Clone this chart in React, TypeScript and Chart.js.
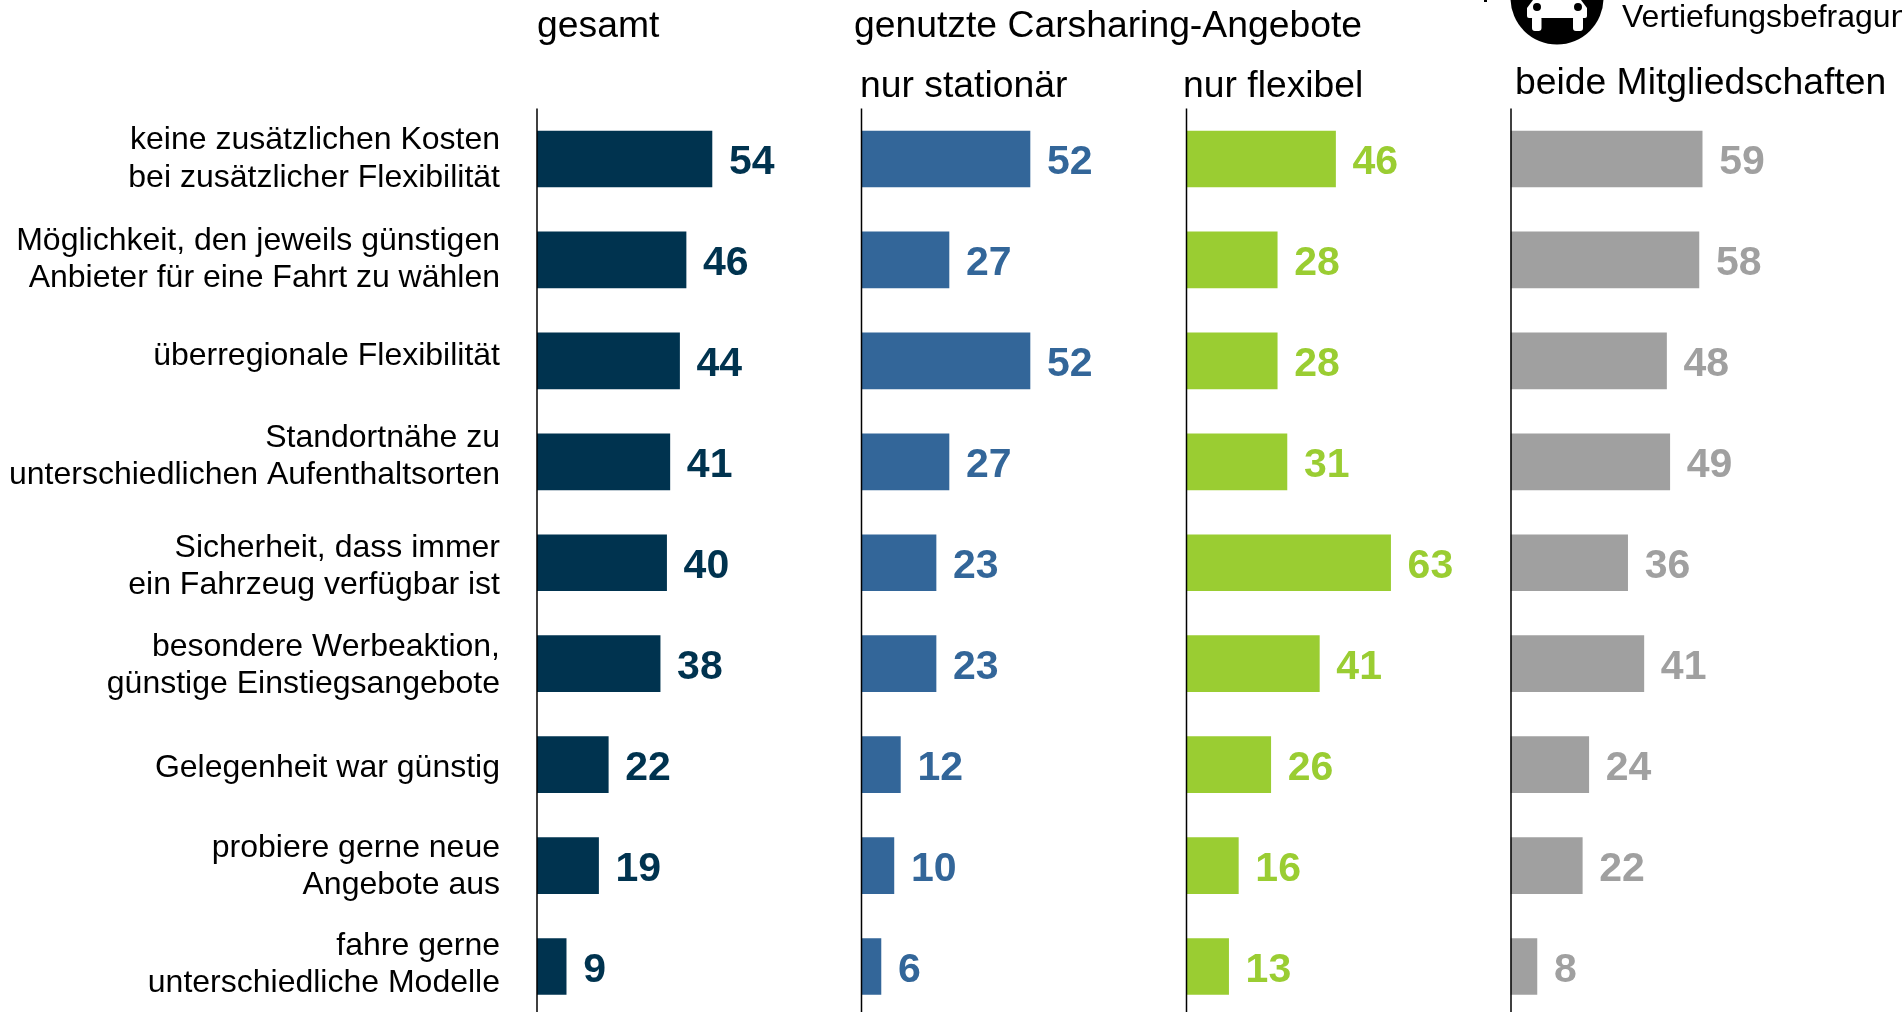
import React, { useEffect, useRef } from "react";
import { Chart, registerables } from "chart.js";

Chart.register(...registerables);

const categories = [
  ["keine zusätzlichen Kosten", "bei zusätzlicher Flexibilität"],
  ["Möglichkeit, den jeweils günstigen", "Anbieter für eine Fahrt zu wählen"],
  ["überregionale Flexibilität"],
  ["Standortnähe zu", "unterschiedlichen Aufenthaltsorten"],
  ["Sicherheit, dass immer", "ein Fahrzeug verfügbar ist"],
  ["besondere Werbeaktion,", "günstige Einstiegsangebote"],
  ["Gelegenheit war günstig"],
  ["probiere gerne neue", "Angebote aus"],
  ["fahre gerne", "unterschiedliche Modelle"],
];
const gesamt = [54, 46, 44, 41, 40, 38, 22, 19, 9];
const nurStationaer = [52, 27, 52, 27, 23, 23, 12, 10, 6];
const nurFlexibel = [46, 28, 28, 31, 63, 41, 26, 16, 13];
const beide = [59, 58, 48, 49, 36, 41, 24, 22, 8];

const colors = ["#00334f", "#336699", "#9acd32", "#a0a0a0"];
const seriesNames = ["gesamt", "nur stationär", "nur flexibel", "beide Mitgliedschaften"];
const axisIds = ["x1", "x2", "x3", "x4"];

const FONT = '"Liberation Sans", Arial, sans-serif';
const CHART_W = 1902;
const CHART_H = 1017;
const PLOT_LEFT = 537;
const PX_PER_UNIT = 3.24;
const panelZero = [537, 861.5, 1186.5, 1511];
// The reference's category text boxes are not quite centred on their bars.
const labelNudge = [0, 0, -5, -5, 4, 2, 4, 1, -2];

const xScale = (zero: number) => {
  const width = CHART_W - PLOT_LEFT;
  const min = -(zero - PLOT_LEFT) / PX_PER_UNIT;
  return {
    type: "linear" as const,
    display: false,
    min,
    max: min + width / PX_PER_UNIT,
    grid: { display: false },
  };
};

const panelPlugin = {
  id: "panels",
  beforeDraw(chart: any) {
    chart.scales.y.getLabelItems().forEach((item: any, i: number) => {
      if (item.nudged) return;
      item.nudged = true;
      item.options.translation[1] += labelNudge[i];
    });
  },
  afterDatasetsDraw(chart: any) {
    const { ctx, chartArea } = chart;
    ctx.save();
    chart.data.datasets.forEach((ds: any, i: number) => {
      const x0 = chart.scales[axisIds[i]].getPixelForValue(0);
      ctx.strokeStyle = "#000";
      ctx.lineWidth = 1.5;
      ctx.beginPath();
      ctx.moveTo(x0, chartArea.top);
      ctx.lineTo(x0, chartArea.bottom);
      ctx.stroke();
      ctx.font = `bold 41px ${FONT}`;
      ctx.fillStyle = colors[i];
      ctx.textAlign = "left";
      ctx.textBaseline = "middle";
      chart.getDatasetMeta(i).data.forEach((bar: any, j: number) => {
        ctx.fillText(String(ds.data[j]), bar.x + 17, bar.y + 4);
      });
    });
    ctx.fillStyle = "#000";
    ctx.font = `37.3px ${FONT}`;
    ctx.textAlign = "left";
    ctx.textBaseline = "alphabetic";
    ctx.fillText("gesamt", 537, 37);
    ctx.fillText("genutzte Carsharing-Angebote", 854, 37);
    ctx.fillText("nur stationär", 860, 97);
    ctx.fillText("nur flexibel", 1183, 97);
    ctx.fillText("beide Mitgliedschaften", 1515, 94);
    ctx.font = `32px ${FONT}`;
    ctx.fillText("Vertiefungsbefragung", 1622, 27);

    // car badge
    ctx.fillStyle = "#000";
    ctx.beginPath();
    ctx.arc(1557, -2, 46.5, 0, Math.PI * 2);
    ctx.fill();
    ctx.fillRect(1484, 0, 3, 2);
    ctx.fillStyle = "#fff";
    ctx.beginPath();
    ctx.moveTo(1527, 16);
    ctx.lineTo(1527, 8);
    ctx.lineTo(1533, 0);
    ctx.lineTo(1581, 0);
    ctx.lineTo(1587, 8);
    ctx.lineTo(1587, 16);
    ctx.quadraticCurveTo(1587, 18, 1585, 18);
    ctx.lineTo(1529, 18);
    ctx.quadraticCurveTo(1527, 18, 1527, 16);
    ctx.closePath();
    ctx.fill();
    ctx.beginPath();
    ctx.roundRect(1532, 16, 9.5, 15, 3);
    ctx.roundRect(1573, 16, 10, 15, 3);
    ctx.fill();
    ctx.fillStyle = "#000";
    ctx.beginPath();
    ctx.arc(1537, 7, 4, 0, Math.PI * 2);
    ctx.arc(1578, 7, 4, 0, Math.PI * 2);
    ctx.fill();
    ctx.restore();
  },
};

export default function App() {
  const ref = useRef<HTMLCanvasElement>(null);
  useEffect(() => {
    document.body.style.margin = "0";
    document.body.style.overflow = "hidden";
    const series = [gesamt, nurStationaer, nurFlexibel, beide];
    const chart = new Chart(ref.current!, {
      type: "bar",
      data: {
        labels: categories,
        datasets: series.map((data, i) => ({
          label: seriesNames[i],
          data,
          xAxisID: axisIds[i],
          backgroundColor: colors[i],
          grouped: false,
          barThickness: 56,
        })),
      } as any,
      options: {
        indexAxis: "y",
        animation: false,
        responsive: false,
        layout: { padding: { top: 108.5, left: 0, right: 0, bottom: 0 } },
        plugins: { legend: { display: false }, tooltip: { enabled: false } },
        scales: {
          y: {
            grid: { display: false },
            border: { display: false },
            afterFit(scale: any) {
              scale.width = PLOT_LEFT;
              scale.paddingTop = 0;
              scale.paddingBottom = 0;
            },
            ticks: {
              color: "#000",
              font: { family: FONT, size: 32, lineHeight: 1.17 },
              padding: 29,
              autoSkip: false,
              maxRotation: 0,
              minRotation: 0,
            },
          },
          x1: xScale(panelZero[0]),
          x2: xScale(panelZero[1]),
          x3: xScale(panelZero[2]),
          x4: xScale(panelZero[3]),
        },
      } as any,
      plugins: [panelPlugin],
    });
    return () => chart.destroy();
  }, []);
  return (
    <div style={{ width: CHART_W, height: 1012, overflow: "hidden", background: "#fff" }}>
      <canvas ref={ref} width={CHART_W} height={CHART_H} style={{ display: "block" }} />
    </div>
  );
}
